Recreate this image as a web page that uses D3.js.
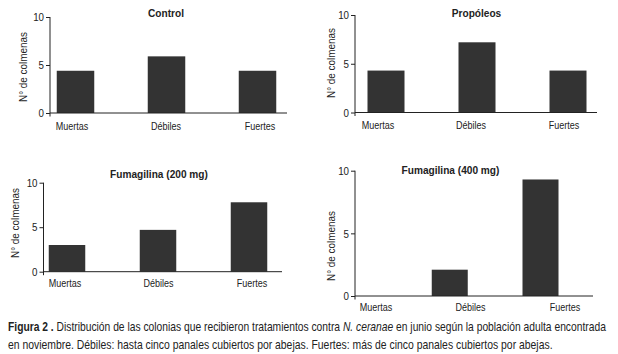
<!DOCTYPE html>
<html><head><meta charset="utf-8">
<script src="https://cdn.jsdelivr.net/npm/d3@7"></script>
<style>
body{margin:0;background:#fff;}
svg{display:block;}
text{fill:#222;}
</style></head>
<body>
<svg id="chart" width="618" height="354"></svg>
<script>
// ---- data ----
const categories = ["Muertas", "Débiles", "Fuertes"];
const panelTitles = ["Control", "Propóleos", "Fumagilina (200 mg)", "Fumagilina (400 mg)"];
const controlValues = [4.4, 5.9, 4.4];
const propoleosValues = [4.3, 7.2, 4.3];
const fumagilina200Values = [3.0, 4.7, 7.8];
const fumagilina400Values = [0, 2.1, 9.3];
const yTicks = [0, 5, 10];
const yAxisLabel = "N° de colmenas";
const captionBold = "Figura 2 .";
const captionA = " Distribución de las colonias que recibieron tratamientos contra ";
const captionItalic = "N. ceranae";
const captionB = " en junio según la población adulta encontrada";
const captionLine2 = "en noviembre. Débiles: hasta cinco panales cubiertos por abejas. Fuertes: más de cinco panales cubiertos por abejas.";

// ---- layout (pixel geometry of each panel) ----
const layouts = [
  {ax:50,  y10:17,    y0:113,   xEnd:287, c0:75.5, c2:257.5, bw:37.5, tx:166,   ty:17,  lx:23,  ly:67,  l0:72,  l2:260, lb:130},
  {ax:355, y10:15,    y0:112.5, xEnd:597, c0:386,  c2:568,   bw:37,   tx:476.5, ty:17,  lx:331, ly:63,  l0:378, l2:564, lb:129},
  {ax:43.5,y10:182.7, y0:271.7, xEnd:282, c0:67,   c2:249,   bw:36.5, tx:159,   ty:178, lx:15,  ly:223, l0:65,  l2:252, lb:287},
  {ax:355, y10:170.7, y0:296,   xEnd:593, c0:359,  c2:540.5, bw:36,   tx:450.5, ty:174, lx:331, ly:246, l0:376, l2:565, lb:311}
];
const panelValues = [controlValues, propoleosValues, fumagilina200Values, fumagilina400Values];

const svg = d3.select("#chart");
const FONT = "'Liberation Sans', Arial, sans-serif";

// horizontally condense a text element around its anchor x
function condense(sel, k) {
  sel.each(function() {
    const t = d3.select(this);
    const x = +t.attr("x") || 0;
    const prev = t.attr("transform") || "";
    t.attr("transform", `${prev} translate(${x},0) scale(${k},1) translate(${-x},0)`);
  });
}

panelValues.forEach((vals, i) => {
  const L = layouts[i];
  const g = svg.append("g");
  const s = (L.c2 - L.c0) / 2;
  const pi = 1 - L.bw / s;
  const x = d3.scaleBand().domain(categories).range([L.c0 - s/2, L.c2 + s/2])
      .paddingInner(pi).paddingOuter(pi/2);
  const xl = d3.scalePoint().domain(categories).range([L.l0, L.l2]);
  const y = d3.scaleLinear().domain([0, 10]).range([L.y0, L.y10]);

  // bars
  g.selectAll("rect.bar").data(vals).join("rect")
    .attr("class", "bar")
    .attr("x", (d, j) => x(categories[j]))
    .attr("width", x.bandwidth())
    .attr("y", d => y(d))
    .attr("height", d => y(0) - y(d))
    .attr("fill", "#333333");

  // y axis
  const yAx = g.append("g").attr("transform", `translate(${L.ax},0)`)
    .call(d3.axisLeft(y).tickValues(yTicks).tickSize(4).tickSizeOuter(0).tickPadding(2));
  yAx.select(".domain").attr("stroke", "#222").attr("d", `M0,${y(10)}V${y(0) + 3.5}`);
  yAx.selectAll(".tick line").attr("stroke", "#222");
  const tt = yAx.selectAll(".tick text").attr("font-family", FONT).attr("font-size", 11.5).attr("fill", "#222");
  condense(tt, 0.85);

  // x axis baseline
  const xAx = g.append("g").attr("transform", `translate(0,${y(0)})`)
    .call(d3.axisBottom(x).tickSize(0).tickFormat(""));
  xAx.select(".domain").attr("stroke", "#222").attr("d", `M${L.ax},0H${L.xEnd}`);
  xAx.selectAll(".tick").remove();

  // category labels
  const cats = g.selectAll("text.cat").data(categories).join("text")
    .attr("class", "cat")
    .attr("x", d => xl(d)).attr("y", L.lb)
    .attr("text-anchor", "middle")
    .attr("font-family", FONT).attr("font-size", 11)
    .text(d => d);
  condense(cats, 0.82);

  // title
  const ti = g.append("text").attr("x", L.tx).attr("y", L.ty)
    .attr("text-anchor", "middle").attr("font-family", FONT)
    .attr("font-weight", "bold").attr("font-size", 11.5).attr("fill", "#333")
    .text(panelTitles[i]);
  condense(ti, 0.88);

  // y label
  g.append("text").attr("transform", `translate(${L.lx},${L.ly}) rotate(-90)`)
    .attr("text-anchor", "middle").attr("dy", "0.35em")
    .attr("font-family", FONT).attr("font-size", 10.5)
    .attr("textLength", 70).attr("lengthAdjust", "spacingAndGlyphs")
    .text(yAxisLabel);
});

// caption
function fitLine(sel, x0, targetW) {
  const w = sel.node().getComputedTextLength();
  const k = targetW / w;
  sel.attr("transform", `translate(${x0},0) scale(${k},1) translate(${-x0},0)`);
}
const cap1 = svg.append("text").attr("x", 8).attr("y", 331)
  .attr("font-family", FONT).attr("font-size", 13).attr("fill", "#222");
cap1.append("tspan").attr("font-weight", "bold").text(captionBold);
cap1.append("tspan").text(captionA);
cap1.append("tspan").attr("font-style", "italic").text(captionItalic);
cap1.append("tspan").text(captionB);
fitLine(cap1, 8, 598);

const cap2 = svg.append("text").attr("x", 8).attr("y", 349)
  .attr("font-family", FONT).attr("font-size", 13).attr("fill", "#222")
  .text(captionLine2);
fitLine(cap2, 8, 545);
</script>
</body></html>
